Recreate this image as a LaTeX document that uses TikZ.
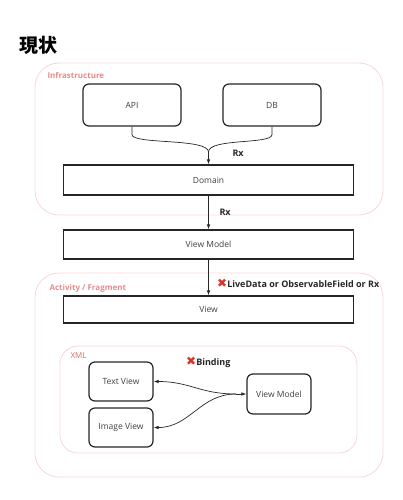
\documentclass[tikz,border=0pt]{standalone}
\usepackage{fontspec}
\setmainfont{Open Sans}
\newfontfamily\cjk{Noto Sans CJK JP}
\newfontfamily\dejavu{DejaVu Sans}
\usetikzlibrary{arrows.meta}
\definecolor{frame}{HTML}{F8D6D6}
\definecolor{lab}{HTML}{E98A8A}
\definecolor{xred}{HTML}{D9342B}
\begin{document}
\begin{tikzpicture}[x=1pt,y=-1pt,
  box/.style={draw=black!85,line width=1.2pt,fill=white,font=\fontsize{8.5}{10}\selectfont,text=black!75},
  rbox/.style={box,rounded corners=6pt},
  cont/.style={draw=frame,line width=0.8pt,rounded corners=24pt},
  clabel/.style={font=\fontsize{8}{9}\selectfont\bfseries,text=lab,anchor=west},
  tag/.style={font=\fontsize{9}{10}\selectfont\bfseries,text=black!85,anchor=west},
  arr/.style={draw=black!85,line width=0.7pt,-{Latex[length=5pt,width=3.5pt]}},
  xmark/.style={}]
\useasboundingbox (0,0) rectangle (403,500);
\node[anchor=west,font=\cjk\fontsize{19}{22}\selectfont\bfseries] (title) at (16,45) {現状};
% containers
\draw[cont] (35,63) rectangle (383,215);
\node[clabel] (infl) at (44,75) {Infrastructure};
\draw[cont] (35,273) rectangle (383,477);
\node[clabel] (actl) at (46,288) {Activity / Fragment};
\draw[cont,rounded corners=18pt] (60,346) rectangle (357,453);
\node[clabel,font=\fontsize{8}{9}\selectfont,text=xred!75] (xmll) at (67,356) {XML};
% boxes
\node[rbox,minimum width=98pt,minimum height=42pt] (api) at (132,105) {API};
\node[rbox,minimum width=98pt,minimum height=42pt] (db) at (272,105) {DB};
\node[box,minimum width=290pt,minimum height=30pt] (domain) at (208.5,180) {Domain};
\node[box,minimum width=290pt,minimum height=29pt] (vm) at (208.5,244.5) {View Model};
\node[box,minimum width=290pt,minimum height=27pt] (view) at (208.5,309.5) {View};
\node[rbox,minimum width=64pt,minimum height=39pt] (tv) at (121,381.5) {Text View};
\node[rbox,minimum width=64pt,minimum height=39pt] (iv) at (121,427.5) {Image View};
\node[rbox,minimum width=64pt,minimum height=40pt] (svm) at (279,394) {View Model};
% connectors
\coordinate (merge) at (208.5,152);
\draw[draw=black!85,line width=0.7pt] (api.south) -- ++(0,8) .. controls +(0,10) and (208.5,138) .. (merge);
\draw[draw=black!85,line width=0.7pt] (db.south) -- ++(0,8) .. controls +(0,10) and (208.5,138) .. (merge);
\draw[arr] (merge) -- (domain.north);
\node[tag] (rx1) at (229,153) {Rx};
\draw[arr] (domain.south) -- (vm.north);
\node[tag] (rx2) at (216,212) {Rx};
\draw[arr] (vm.south) -- (view.north);
\node[tag,inner sep=1pt] (ld) at (216,283) {{\dejavu\color{xred}\fontsize{12}{12}\selectfont ✖}LiveData or ObservableField or Rx};
\node[tag,inner sep=1pt] (bind) at (185,362) {{\dejavu\color{xred}\fontsize{12}{12}\selectfont ✖}Binding};
\coordinate (split) at (236,394);
\draw[arr] (split) -- (svm.west);
\draw[arr] (split) .. controls (200,394) and (190,381.5) .. (tv.east);
\draw[arr] (split) .. controls (200,394) and (190,427.5) .. (iv.east);
\end{tikzpicture}
\end{document}
